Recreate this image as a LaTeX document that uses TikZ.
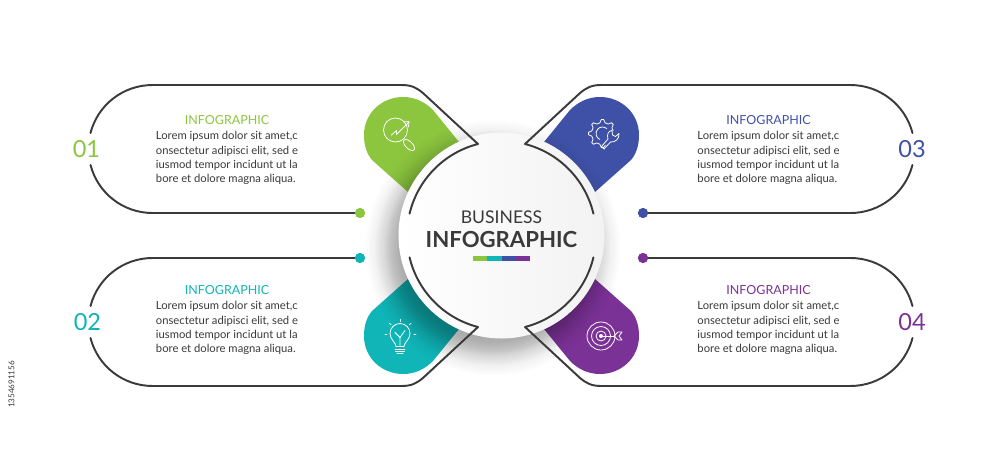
\documentclass[tikz,border=0pt]{standalone}
\usepackage{fontspec}
\setmainfont{Lato}
\usetikzlibrary{fadings}
\definecolor{grn}{HTML}{8CC63F}
\definecolor{teal1}{HTML}{10B5B8}
\definecolor{blu}{HTML}{3F51A6}
\definecolor{pur}{HTML}{7B3296}
\definecolor{ink}{HTML}{3A3A3A}
\tikzstyle{rim} = [draw=ink, line width=1.1pt, line cap=round, line join=round]
\tikzstyle{icon} = [draw=white, line width=0.45pt, line cap=round, line join=round]
\tikzstyle{dot} = [circle, inner sep=0pt, minimum size=0.2cm]
\tikzstyle{head} = [font=\fontsize{7.1}{8.1}\selectfont, inner sep=0pt]
\tikzstyle{body} = [font=\fontsize{6.4}{8.1}\selectfont, text=ink, align=left, inner sep=0pt]
\tikzstyle{num} = [font=\fontsize{13.4}{14}\selectfont, inner sep=0pt]
\tikzstyle{haze} = [black, opacity=0.13, path fading=circle with fuzzy edge 20 percent]
\newcommand{\petal}[1]{\fill [#1] (-42.5,93.5) -- (-68.5,125.5)
	.. controls (-76.5,133.5) and (-86.5,138.5) .. (-98.5,138.5)
	.. controls (-119.5,138.5) and (-137.5,122.5) .. (-137.5,100.5)
	.. controls (-137.5,89.5) and (-134.5,81.5) .. (-129.5,75.5)
	-- (-93.5,43.5) -- (-60,60) -- cycle;}
\newcommand{\rimline}[1]{\draw [rim] (#1) -- (-349,22.5) arc [start angle=270, end angle=194.5, radius=64];
	\draw [rim] (-411,102.5) arc [start angle=165.5, end angle=90, radius=64] -- (-100,150.5)
	.. controls (-90,150.5) and (-85,148) .. (-78,142) -- (-23.5,91.5)
	arc [start angle=104.4, end angle=166.6, radius=94.5];}
\begin{document}
\begin{tikzpicture}[x=0.02cm, y=0.02cm]
	\useasboundingbox (-501.5,-235.5) rectangle (498.5,235.5);
	\fill [white] (-501.5,-235.5) rectangle (498.5,235.5);

	\begin{scope} \petal{grn} \end{scope}
	\begin{scope}[yscale=-1] \petal{teal1} \end{scope}
	\begin{scope}[xscale=-1] \petal{blu} \end{scope}
	\begin{scope}[xscale=-1, yscale=-1] \petal{pur} \end{scope}

	% centre disc
	\fill [haze] (-9,-12) circle (108);
	\fill [haze] (-9,-12) circle (118);
	\fill [haze] (-9,-12) circle (128);
	\shade [left color=white, right color=black!5] (0,0) circle (103);

	\node [dot, fill=grn] (dotA) at (-141.5,22.5) {};
	\node [dot, fill=teal1] (dotB) at (-141.5,-22.5) {};
	\node [dot, fill=blu] (dotC) at (141.5,22.5) {};
	\node [dot, fill=pur] (dotD) at (141.5,-22.5) {};

	\begin{scope} \rimline{dotA} \end{scope}
	\begin{scope}[yscale=-1] \rimline{dotB} \end{scope}
	\begin{scope}[xscale=-1] \rimline{dotC} \end{scope}
	\begin{scope}[xscale=-1, yscale=-1] \rimline{dotD} \end{scope}

	\node [dot, fill=grn] at (dotA) {};
	\node [dot, fill=teal1] at (dotB) {};
	\node [dot, fill=blu] at (dotC) {};
	\node [dot, fill=pur] at (dotD) {};

	\node [font=\fontsize{10}{10}\selectfont, text=ink, inner sep=0pt] (title) at (0,18.5) {BUSINESS};
	\node [font=\fontsize{12.6}{13}\selectfont\bfseries, text=ink, inner sep=0pt] (subtitle) at (0,-3.5) {INFOGRAPHIC};
	\fill [grn] (-28.5,-20.5) rectangle (-14.5,-25.5);
	\fill [teal1] (-14.5,-20.5) rectangle (0,-25.5);
	\fill [blu] (0,-20.5) rectangle (14,-25.5);
	\fill [pur] (14,-20.5) rectangle (28,-25.5);

	% labels
	\node [head, text=grn] (headA) at (-274.5,115) {INFOGRAPHIC};
	\node [head, text=teal1] (headB) at (-274.5,-55) {INFOGRAPHIC};
	\node [head, text=blu] (headC) at (267,115) {INFOGRAPHIC};
	\node [head, text=pur] (headD) at (267,-55) {INFOGRAPHIC};
	\node [body] (bodyA) at (-274.5,77.5) {Lorem ipsum dolor sit amet,c\\onsectetur adipisci elit, sed e\\iusmod tempor incidunt ut la\\bore et dolore magna aliqua.};
	\node [body] (bodyB) at (-274.5,-92.5) {Lorem ipsum dolor sit amet,c\\onsectetur adipisci elit, sed e\\iusmod tempor incidunt ut la\\bore et dolore magna aliqua.};
	\node [body] (bodyC) at (267,77.5) {Lorem ipsum dolor sit amet,c\\onsectetur adipisci elit, sed e\\iusmod tempor incidunt ut la\\bore et dolore magna aliqua.};
	\node [body] (bodyD) at (267,-92.5) {Lorem ipsum dolor sit amet,c\\onsectetur adipisci elit, sed e\\iusmod tempor incidunt ut la\\bore et dolore magna aliqua.};
	\node [num, text=grn] (numA) at (-415,86.5) {01};
	\node [num, text=teal1] (numB) at (-414,-86.5) {02};
	\node [num, text=blu] (numC) at (410.5,86.5) {03};
	\node [num, text=pur] (numD) at (410.5,-86.5) {04};
	\node [rotate=90, font=\fontsize{4.6}{5}\selectfont, text=ink, inner sep=0pt] (stockid) at (-490,-149) {1354691156};

	% magnifier
	\draw [icon] (-106,105.5) circle (12);
	\draw [icon, rotate around={-45:(-92.5,90.5)}] (-92.5,90.5) ellipse (7 and 3.5);
	\draw [icon] (-110,100.5) -- (-105,105) -- (-105,101) -- (-93,113);
	\draw [icon] (-98,113.5) -- (-92.5,114) -- (-93,108.5);

	% gear and wrench
	\begin{scope}[shift={(101,102)}]
		\draw [icon] (14:11) -- (31:11) -- (40:14) -- (50:14) -- (59:11) -- (76:11) -- (85:14) -- (95:14)
		-- (104:11) -- (121:11) -- (130:14) -- (140:14) -- (149:11) -- (166:11) -- (175:14) -- (185:14) -- (194:11)
		-- (211:11) -- (220:14) -- (230:14) -- (239:11) -- (256:11) -- (265:14) -- (275:14) -- (284:12);
		\draw [icon] (50:6.5) arc [start angle=50, end angle=245, radius=6.5];
		\draw [icon] (-1,-13) -- (1.5,-15.5) -- (8,-8.5) .. controls (12,-9) and (17,-6) .. (16.5,0)
		-- (13,-3) -- (10,-1.5) -- (9.5,3) .. controls (6,3) and (4,-1) .. (5.5,-5.5) -- cycle;
	\end{scope}

	% bulb
	\begin{scope}[shift={(-101.5,-98)}]
		\draw [icon] (-4,-13) .. controls (-4,-9) and (-10,-6) .. (-10,0) arc [start angle=180, end angle=0, radius=10]
		.. controls (10,-6) and (4,-9) .. (4,-13) -- cycle;
		\draw [icon] (0,-12) -- (0,-4) -- (-5,1);
		\draw [icon] (0,-4) -- (5,3);
		\draw [icon] (-5,-15.5) -- (5,-15.5);
		\draw [icon] (-4.5,-17.5) -- (4.5,-17.5);
		\draw [icon] (-3,-19.5) -- (3,-19.5);
		\draw [icon] (-15,-1) -- (-13,-1);
		\draw [icon] (-10.5,10) -- (-9,9);
		\draw [icon] (0,14) -- (0,12);
		\draw [icon] (11,10) -- (9.5,9);
		\draw [icon] (16,-1) -- (14,-1);
	\end{scope}

	% target
	\begin{scope}[shift={(99.5,-100.5)}]
		\draw [icon] (0,0) circle (14);
		\draw [icon] (0,0) circle (9.5);
		\draw [icon] (0,0) circle (5);
		\fill [white] (0,0) circle (2);
		\draw [icon] (0,0) -- (13,0);
		\draw [icon] (13,0) -- (17,4) -- (21,4) -- (18,0) -- (21,-4) -- (17,-4) -- cycle;
	\end{scope}
\end{tikzpicture}
\end{document}
